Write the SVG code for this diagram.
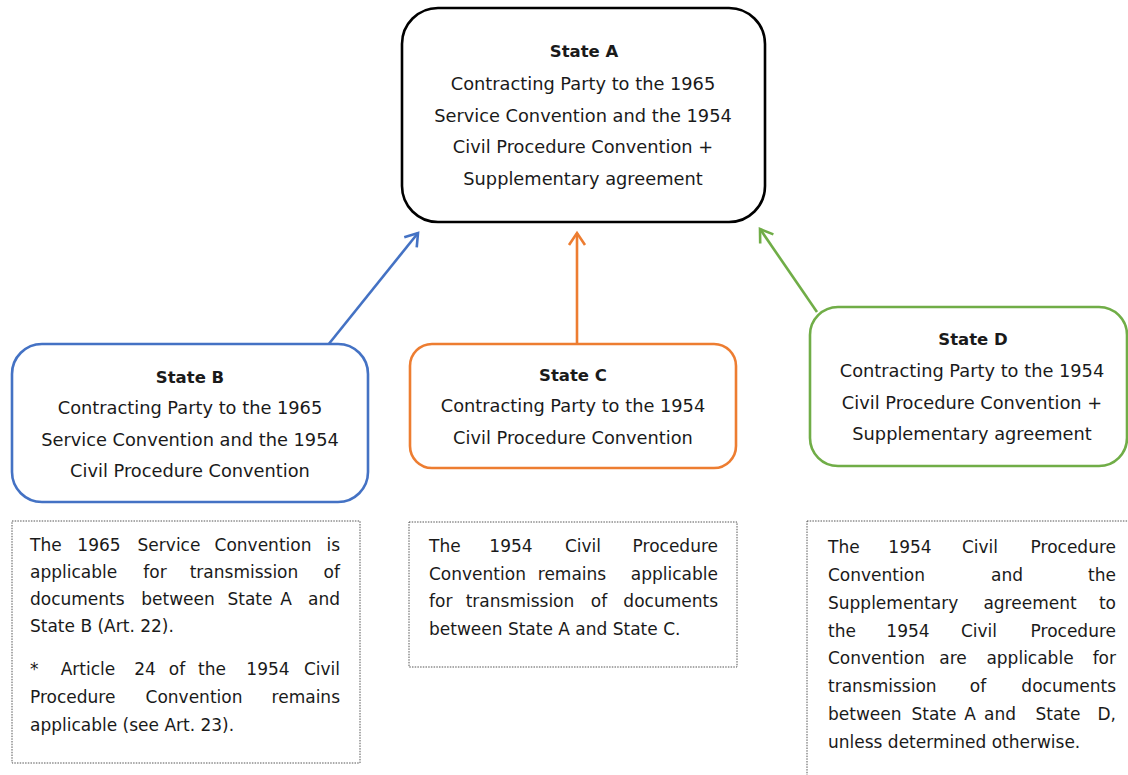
<svg xmlns="http://www.w3.org/2000/svg" width="1128" height="775" viewBox="0 0 1128 775">
<style>
.node{fill:#fff;stroke-width:2.6}
.nt{font-family:"DejaVu Sans",sans-serif;font-size:17.8px;fill:#1a1a1a;text-anchor:middle}
.nb{font-weight:bold;font-size:16.5px}
.box{fill:#fff;stroke:#555;stroke-width:1;stroke-dasharray:1.5 1.2}
.bt{font-family:"DejaVu Sans",sans-serif;font-size:17px;fill:#1a1a1a}
.e{text-anchor:end}
.m{text-anchor:middle}
.conn{fill:none;stroke-width:2.6}
</style>
<defs>
<marker id="mb" markerUnits="userSpaceOnUse" viewBox="-16 -12 20 24" markerWidth="20" markerHeight="24" refX="0" refY="0" orient="auto"><path d="M-12,-8 L0,0 L-12,8" fill="none" stroke="#4472C4" stroke-width="2.6"/></marker>
<marker id="mo" markerUnits="userSpaceOnUse" viewBox="-16 -12 20 24" markerWidth="20" markerHeight="24" refX="0" refY="0" orient="auto"><path d="M-12,-8 L0,0 L-12,8" fill="none" stroke="#ED7D31" stroke-width="2.6"/></marker>
<marker id="mg" markerUnits="userSpaceOnUse" viewBox="-16 -12 20 24" markerWidth="20" markerHeight="24" refX="0" refY="0" orient="auto"><path d="M-12,-8 L0,0 L-12,8" fill="none" stroke="#70AD47" stroke-width="2.6"/></marker>
</defs>
<rect width="1128" height="775" fill="#fff"/>

<g id="connectors">
<line class="conn" x1="328" y1="345" x2="418" y2="233" stroke="#4472C4" marker-end="url(#mb)"/>
<line class="conn" x1="577" y1="344" x2="577" y2="233" stroke="#ED7D31" marker-end="url(#mo)"/>
<line class="conn" x1="817" y1="312" x2="760" y2="229" stroke="#70AD47" marker-end="url(#mg)"/>
</g>

<g id="stateA">
<rect class="node" x="402" y="8" width="363" height="214" rx="36" stroke="#000"/>
<text class="nt nb" x="584" y="57">State A</text>
<text class="nt" x="583" y="90">Contracting Party to the 1965</text>
<text class="nt" x="583" y="122">Service Convention and the 1954</text>
<text class="nt" x="583" y="153">Civil Procedure Convention +</text>
<text class="nt" x="583" y="185">Supplementary agreement</text>
</g>

<g id="stateB">
<rect class="node" x="12" y="344" width="356" height="158" rx="30" stroke="#4472C4"/>
<text class="nt nb" x="190" y="383">State B</text>
<text class="nt" x="190" y="414">Contracting Party to the 1965</text>
<text class="nt" x="190" y="446">Service Convention and the 1954</text>
<text class="nt" x="190" y="477">Civil Procedure Convention</text>
</g>

<g id="stateC">
<rect class="node" x="410" y="344" width="326" height="124" rx="22" stroke="#ED7D31"/>
<text class="nt nb" x="573" y="381">State C</text>
<text class="nt" x="573" y="412">Contracting Party to the 1954</text>
<text class="nt" x="573" y="444">Civil Procedure Convention</text>
</g>

<g id="stateD">
<rect class="node" x="810" y="307" width="317" height="159" rx="28" stroke="#70AD47"/>
<text class="nt nb" x="973" y="345">State D</text>
<text class="nt" x="972" y="377">Contracting Party to the 1954</text>
<text class="nt" x="972" y="409">Civil Procedure Convention +</text>
<text class="nt" x="972" y="440">Supplementary agreement</text>
</g>

<g id="noteB">
<rect class="box" x="12" y="521" width="348" height="242"/>
<text class="bt" x="30" y="551">The</text>
<text class="bt m" y="551"><tspan x="99">1965</tspan><tspan x="169">Service</tspan><tspan x="263">Convention</tspan></text>
<text class="bt e" x="340" y="551">is</text>
<text class="bt" x="30" y="578">applicable</text>
<text class="bt m" y="578"><tspan x="155">for</tspan><tspan x="244">transmission</tspan></text>
<text class="bt e" x="340" y="578">of</text>
<text class="bt" x="30" y="605">documents</text>
<text class="bt m" y="605"><tspan x="178">between</tspan><tspan x="250">State</tspan><tspan x="286">A</tspan></text>
<text class="bt e" x="340" y="605">and</text>
<text class="bt" x="30" y="632">State B (Art. 22).</text>
<text class="bt" x="30" y="675">*</text>
<text class="bt m" y="675"><tspan x="88">Article</tspan><tspan x="145">24</tspan><tspan x="177">of</tspan><tspan x="212">the</tspan><tspan x="268">1954</tspan></text>
<text class="bt e" x="340" y="675">Civil</text>
<text class="bt" x="30" y="703">Procedure</text>
<text class="bt m" x="194" y="703">Convention</text>
<text class="bt e" x="340" y="703">remains</text>
<text class="bt" x="30" y="731">applicable (see Art. 23).</text>
</g>

<g id="noteC">
<rect class="box" x="409" y="522" width="328" height="145"/>
<text class="bt" x="429" y="552">The</text>
<text class="bt m" y="552"><tspan x="511">1954</tspan><tspan x="583">Civil</tspan></text>
<text class="bt e" x="718" y="552">Procedure</text>
<text class="bt" x="429" y="580">Convention</text>
<text class="bt m" x="572" y="580">remains</text>
<text class="bt e" x="718" y="580">applicable</text>
<text class="bt" x="429" y="607">for</text>
<text class="bt m" y="607"><tspan x="520">transmission</tspan><tspan x="599">of</tspan></text>
<text class="bt e" x="718" y="607">documents</text>
<text class="bt" x="429" y="635">between State A and State C.</text>
</g>

<g id="noteD">
<rect class="box" x="807" y="521" width="330" height="270"/>
<text class="bt" x="828" y="553">The</text>
<text class="bt m" y="553"><tspan x="910">1954</tspan><tspan x="980">Civil</tspan></text>
<text class="bt e" x="1116" y="553">Procedure</text>
<text class="bt" x="828" y="581">Convention</text>
<text class="bt m" x="1007" y="581">and</text>
<text class="bt e" x="1116" y="581">the</text>
<text class="bt" x="828" y="609">Supplementary</text>
<text class="bt m" x="1030" y="609">agreement</text>
<text class="bt e" x="1116" y="609">to</text>
<text class="bt" x="828" y="637">the</text>
<text class="bt m" y="637"><tspan x="908">1954</tspan><tspan x="979">Civil</tspan></text>
<text class="bt e" x="1116" y="637">Procedure</text>
<text class="bt" x="828" y="664">Convention</text>
<text class="bt m" y="664"><tspan x="953">are</tspan><tspan x="1030">applicable</tspan></text>
<text class="bt e" x="1116" y="664">for</text>
<text class="bt" x="828" y="692">transmission</text>
<text class="bt m" x="978" y="692">of</text>
<text class="bt e" x="1116" y="692">documents</text>
<text class="bt" x="828" y="720">between</text>
<text class="bt m" y="720"><tspan x="934">State</tspan><tspan x="970">A</tspan><tspan x="1000">and</tspan><tspan x="1058">State</tspan></text>
<text class="bt e" x="1116" y="720">D,</text>
<text class="bt" x="828" y="748">unless determined otherwise.</text>
</g>
</svg>
